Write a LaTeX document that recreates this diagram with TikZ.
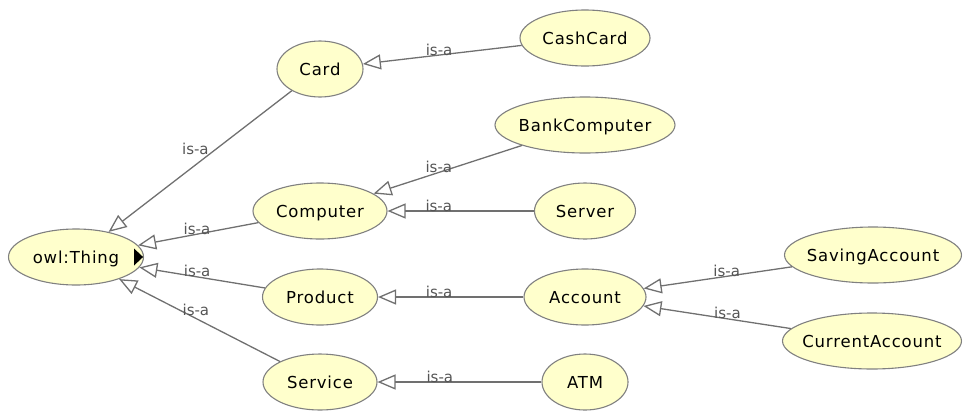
\documentclass[tikz,border=0pt]{standalone}
\usepackage{fontspec}
\newfontfamily\clsfont{DejaVu Sans}[LetterSpace=5]
\newfontfamily\relfont{DejaVu Sans}
\usetikzlibrary{shapes.geometric,arrows.meta}
\definecolor{clsfill}{RGB}{255,255,204}
\definecolor{clsline}{RGB}{128,128,128}
\definecolor{edgegray}{RGB}{112,112,112}
\definecolor{relgray}{RGB}{85,85,85}
% class names are set in a zero-width box so the ellipse size is fixed by minimum width/height
\newcommand\cname[1]{\makebox[0pt]{#1}}

\begin{document}
\begin{tikzpicture}[x=1pt,y=-1pt,
  cls/.style={ellipse, draw=clsline, line width=1.1pt, fill=clsfill, inner sep=0pt,
    minimum height=56pt, text=black,
    font=\clsfont\fontsize{16.5}{18}\selectfont, text height=12pt, text depth=0pt},
  isa/.style={draw=edgegray, line width=1.3pt,
    -{Triangle[open, fill=white, length=18pt, width=15pt]}},
  rel/.style={font=\relfont\fontsize{15}{16}\selectfont, text=relgray, inner sep=0pt, anchor=base}]

\useasboundingbox (0,0) rectangle (963,410);

% classes
\node[cls, minimum width=135pt] (thing)   at (76,257)  {\cname{owl:Thing}};
\node[cls, minimum width=86pt]  (card)    at (320,69)  {\cname{Card}};
\node[cls, minimum width=130pt] (cash)    at (585,38)  {\cname{CashCard}};
\node[cls, minimum width=180pt] (bankc)   at (585,125) {\cname{BankComputer}};
\node[cls, minimum width=134pt] (comp)    at (320,211) {\cname{Computer}};
\node[cls, minimum width=101pt] (server)  at (585,211) {\cname{Server}};
\node[cls, minimum width=115pt] (product) at (320,297) {\cname{Product}};
\node[cls, minimum width=114pt] (service) at (320,382) {\cname{Service}};
\node[cls, minimum width=122pt] (account) at (585,297) {\cname{Account}};
\node[cls, minimum width=86pt]  (atm)     at (585,382) {\cname{ATM}};
\node[cls, minimum width=177pt] (saving)  at (873,255) {\cname{SavingAccount}};
\node[cls, minimum width=179pt] (current) at (872,341) {\cname{CurrentAccount}};

% expand marker on the root class
\fill[black] ([xshift=-10pt,yshift=8.5pt]thing.east) -- ([xshift=-1pt]thing.east)
  -- ([xshift=-10pt,yshift=-8.5pt]thing.east) -- cycle;

% subclass relations
\draw[isa] (card)    -- node[rel, pos=0.45, anchor=base east] {is-a} (thing);
\draw[isa] (comp)    -- node[rel, pos=0.51] {is-a} (thing);
\draw[isa] (product) -- node[rel, pos=0.54] {is-a} (thing);
\draw[isa] (service) -- node[rel, pos=0.56, xshift=6pt] {is-a} (thing);

\draw[isa] (cash)    -- node[rel, pos=0.52] {is-a} (card);
\draw[isa] (bankc)   -- node[rel, pos=0.56] {is-a} (comp);
\draw[isa] (server)  -- node[rel, pos=0.65] {is-a} (comp);
\draw[isa] (account) -- node[rel, pos=0.58] {is-a} (product);
\draw[isa] (atm)     -- node[rel, pos=0.62] {is-a} (service);
\draw[isa] (saving)  -- node[rel, pos=0.44] {is-a} (account);
\draw[isa] (current) -- node[rel, pos=0.43] {is-a} (account);
\end{tikzpicture}
\end{document}
